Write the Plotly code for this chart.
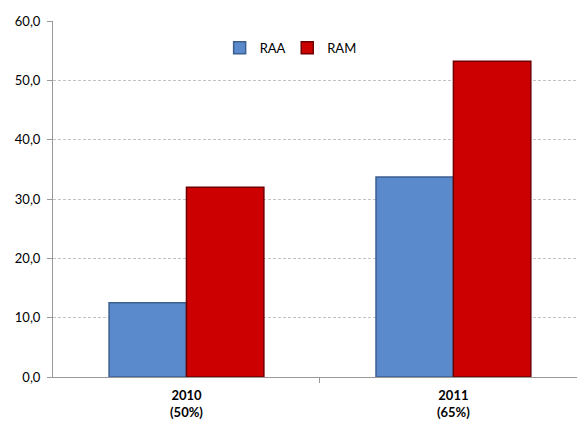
import plotly.graph_objects as go

categories = ["2010", "2011"]
cat_sub = ["(50%)", "(65%)"]
raa = [12.5, 33.7]
ram = [32.0, 53.2]

x_pos = list(range(len(categories)))
ticktext = [f"<b>{c}</b><br><b>{s}</b>" for c, s in zip(categories, cat_sub)]

fig = go.Figure()
fig.add_trace(go.Bar(x=x_pos, y=raa, name="RAA", legend="legend",
                     marker=dict(color="#5A8ACB", line=dict(color="#3B5F8E", width=1.5))))
fig.add_trace(go.Bar(x=x_pos, y=ram, name="RAM", legend="legend2",
                     marker=dict(color="#CC0000", line=dict(color="#6E0000", width=1.5))))

leg_common = dict(orientation="h", y=0.925, xanchor="left", yanchor="middle",
                  font=dict(size=13), itemwidth=30, bgcolor="rgba(0,0,0,0)")

fig.update_layout(
    width=578, height=421,
    margin=dict(l=53, r=1, t=21, b=44),
    paper_bgcolor="white", plot_bgcolor="white",
    separators=",.",
    barmode="group", bargap=0.42, bargroupgap=0,
    font=dict(family="Lato, Open Sans, sans-serif", size=13, color="black"),
    legend=dict(x=0.318, **leg_common),
    legend2=dict(x=0.447, **leg_common),
    showlegend=True,
)
fig.update_xaxes(
    range=[-0.5, 1.463], tickvals=x_pos, ticktext=ticktext,
    ticks="", showgrid=False, zeroline=False,
    showline=True, linecolor="#999999", linewidth=1,
    tickfont=dict(size=13), ticklabelstandoff=6,
    minor=dict(tickvals=[0.5], ticks="outside", ticklen=5, tickcolor="#999999", showgrid=False),
)
fig.update_yaxes(
    range=[0, 60], dtick=10, tickformat=".1f",
    showgrid=True, gridcolor="#c4c4c4", griddash="3px,2px", gridwidth=1,
    zeroline=False, showline=True, linecolor="#999999", linewidth=1,
    ticks="outside", ticklen=5, tickcolor="#999999",
    tickfont=dict(size=13), ticklabelstandoff=4,
)

fig.write_html("out.html")
